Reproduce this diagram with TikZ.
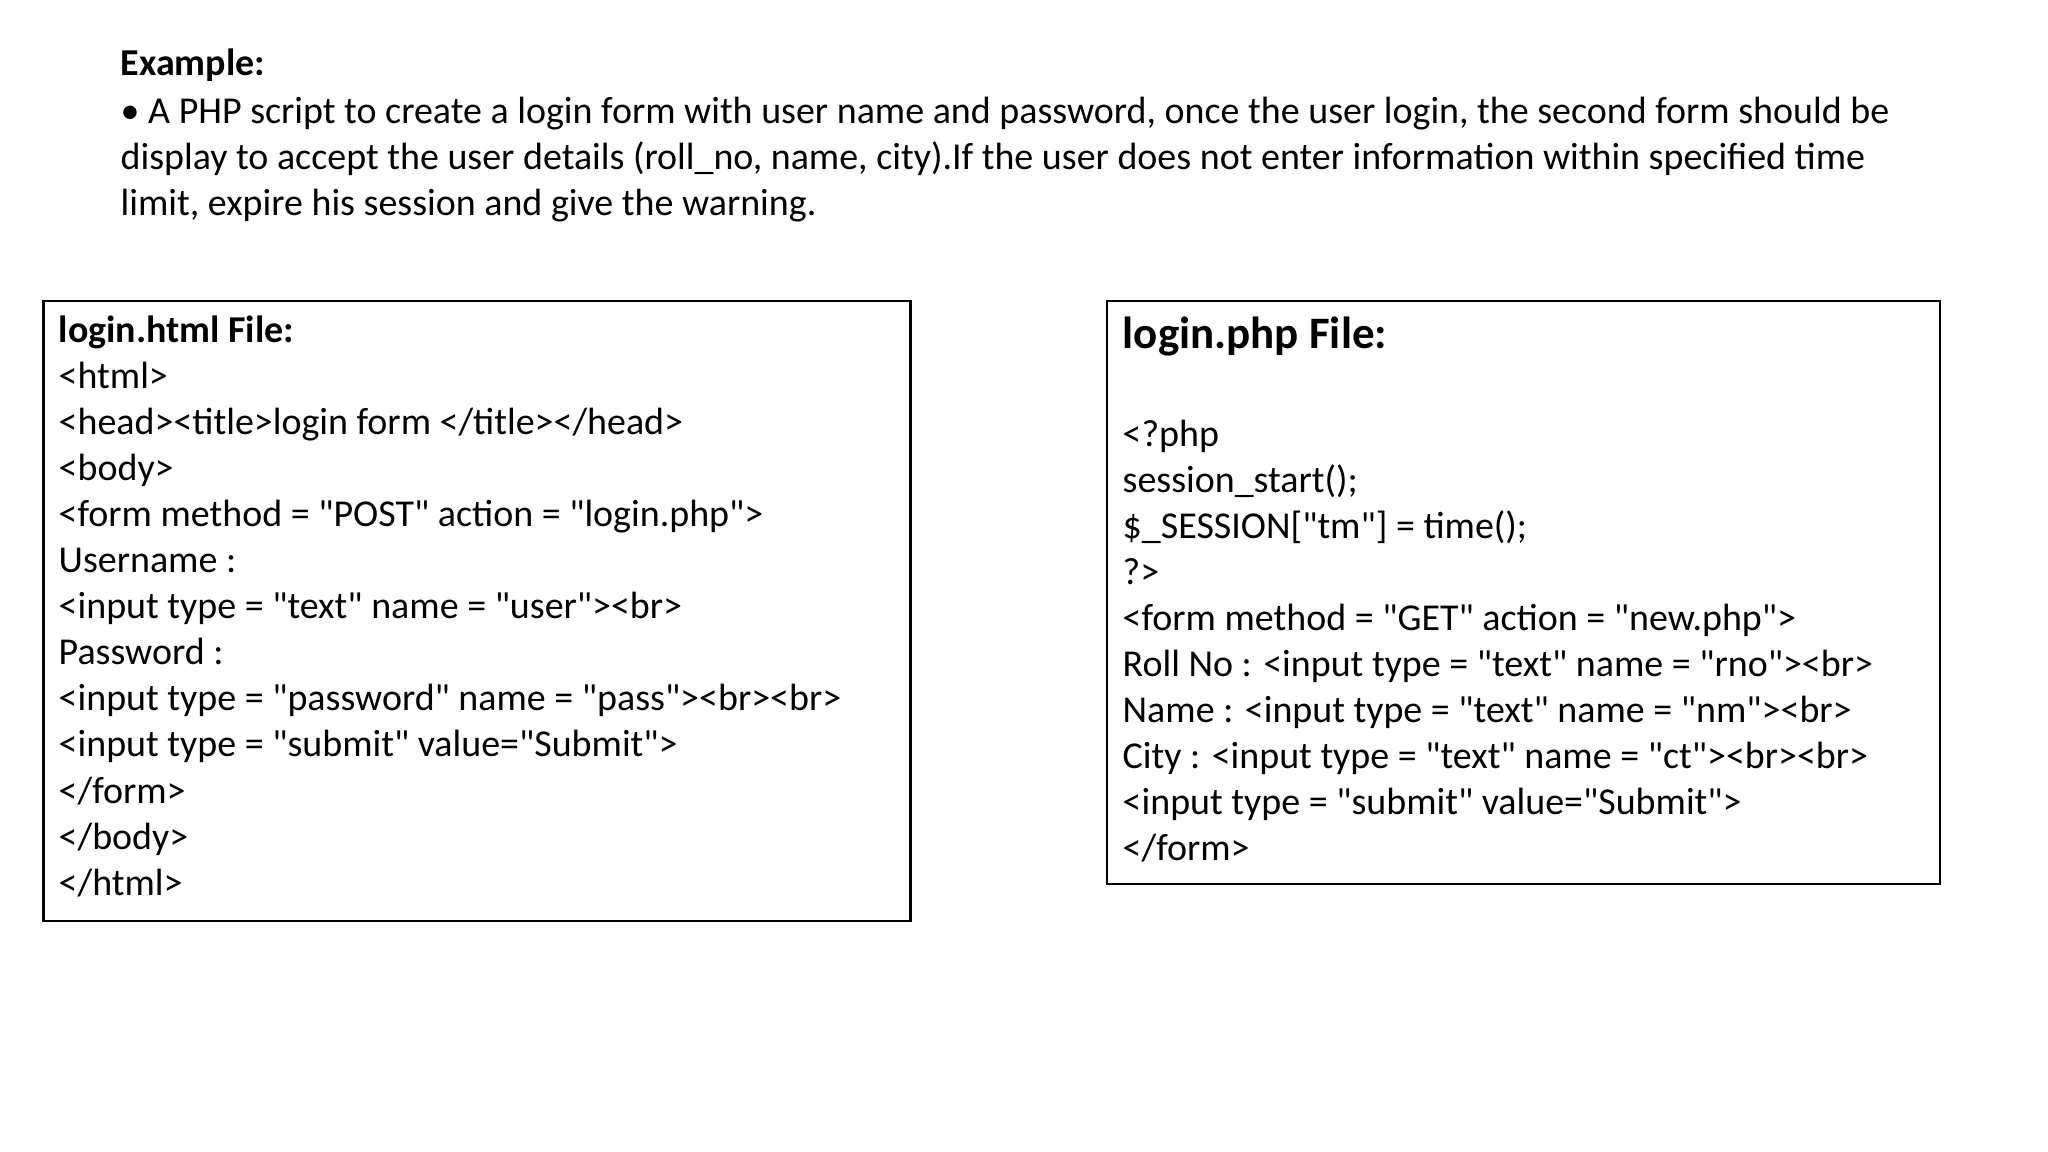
\documentclass[tikz,border=0pt]{standalone}
\usepackage{fontspec}
\setmainfont{Carlito}[Ligatures=TeXOff]
\begin{document}
\begin{tikzpicture}[x=0.01cm,y=-0.01cm,
  txt/.style={inner sep=0pt,anchor=base west,align=left,font=\fontsize{10.8pt}{13.1pt}\selectfont},
  frame/.style={draw,line width=0.6pt}]
\useasboundingbox (0,0) rectangle (2048,1152);
\node[txt,font=\bfseries\fontsize{10.8pt}{13.1pt}\selectfont] (ex) at (120,76) {Example:};
\node[txt,anchor=north west] (para) at (120,96) {\textbullet{} A PHP script to create a login form with user name and password, once the user login, the second form should be\\display to accept the user details (roll\_no, name, city).If the user does not enter information within specified time\\limit, expire his session and give the warning.};
\draw[frame] (43.5,301) coordinate (l1) rectangle (910.5,921) coordinate (l2);
\draw[frame] (1107,301) coordinate (r1) rectangle (1940,884) coordinate (r2);
\node[txt,anchor=north west] (ltxt) at (58,315) {\textbf{login.html File:}\\
<html>\\
<head><title>login form </title></head>\\
<body>\\
<form method = "POST" action = "login.php">\\
Username :\\
<input type = "text" name = "user"><br>\\
Password :\\
<input type = "password" name = "pass"><br><br>\\
<input type = "submit" value="Submit">\\
</form>\\
</body>\\
</html>};
\node[txt,font=\bfseries\fontsize{12.8pt}{13.1pt}\selectfont] (rtitle) at (1122,349) {login.php File:};
\node[txt,anchor=north west] (rtxt) at (1122,419) {<?php\\
session\_start();\\
\$\_SESSION["tm"] = time();\\
?>\\
<form method = "GET" action = "new.php">\\
Roll No : <input type = "text" name = "rno"><br>\\
Name : <input type = "text" name = "nm"><br>\\
City : <input type = "text" name = "ct"><br><br>\\
<input type = "submit" value="Submit">\\
</form>};
\end{tikzpicture}
\end{document}
